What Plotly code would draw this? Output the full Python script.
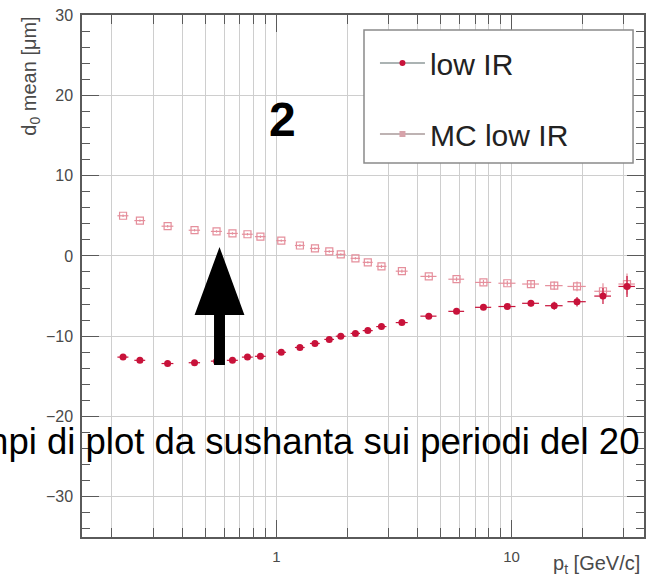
import plotly.graph_objects as go

# ---- data: mean transverse impact parameter d0 vs pT -------------------------
pt = [0.223, 0.263, 0.345, 0.449, 0.557, 0.651, 0.754, 0.856, 1.05, 1.26, 1.46,
      1.68, 1.88, 2.17, 2.45, 2.80, 3.42, 4.45, 5.84, 7.6, 9.6, 12.1, 15.2,
      19.0, 24.5, 31.0]
pt_err = [0.012, 0.014, 0.02, 0.025, 0.03, 0.035, 0.04, 0.045, 0.05, 0.06, 0.07,
          0.08, 0.09, 0.1, 0.12, 0.14, 0.2, 0.35, 0.45, 0.6, 0.8, 1.0, 1.3,
          1.7, 2.0, 2.5]

d0_low_ir = [-12.6, -13.0, -13.4, -13.3, -13.1, -13.0, -12.6, -12.5, -12.0, -11.4,
             -10.9, -10.4, -10.0, -9.65, -9.3, -8.8, -8.3, -7.5, -6.9, -6.4,
             -6.3, -5.9, -6.2, -5.7, -5.0, -3.8]
d0_low_ir_err = [0.15, 0.15, 0.15, 0.15, 0.15, 0.15, 0.15, 0.15, 0.15, 0.15, 0.15,
                 0.15, 0.15, 0.15, 0.15, 0.2, 0.2, 0.2, 0.25, 0.3, 0.3, 0.4, 0.5,
                 0.6, 1.0, 1.3]

d0_mc_low_ir = [5.0, 4.4, 3.7, 3.2, 3.05, 2.8, 2.7, 2.4, 1.9, 1.3, 0.93, 0.56, 0.19,
                -0.3, -0.8, -1.3, -1.9, -2.55, -2.9, -3.3, -3.4, -3.5, -3.7, -3.8,
                -4.4, -3.5]
d0_mc_low_ir_err = [0.15, 0.15, 0.15, 0.15, 0.15, 0.15, 0.15, 0.15, 0.15, 0.15, 0.15,
                    0.15, 0.15, 0.15, 0.15, 0.2, 0.2, 0.2, 0.25, 0.3, 0.3, 0.4, 0.5,
                    0.6, 1.0, 1.3]

series_names = ["low IR", "MC low IR"]
x_tick_vals = [1, 10]
x_tick_text = ["1", "10"]
x_minor_vals = [0.2, 0.3, 0.4, 0.5, 0.6, 0.7, 0.8, 0.9,
                2, 3, 4, 5, 6, 7, 8, 9, 20, 30, 40]

# ---- page geometry (pixels) ---------------------------------------------------
W, H = 648, 581
L, R, T, B = 82, 2, 15, 44
PW, PH = W - L - R, H - T - B


def px(x):
    return (x - L) / PW


def py(y):
    return (H - B - y) / PH


RED = "#c8123a"
PINK = "#e58f9c"
AXIS = "#5a5a5a"
GRID = "#cecece"
TXT = "#4a4a4a"
FONT = "Liberation Sans, Arial, sans-serif"

fig = go.Figure()

fig.add_trace(go.Scatter(
    x=pt, y=d0_mc_low_ir, mode="markers", showlegend=False,
    marker=dict(symbol="square-open", size=7, color=PINK, line=dict(width=1.2)),
    error_x=dict(type="data", array=pt_err, color=PINK, thickness=1.2, width=0),
    error_y=dict(type="data", array=d0_mc_low_ir_err, color=PINK, thickness=1.2, width=0),
))
fig.add_trace(go.Scatter(
    x=pt, y=d0_low_ir, mode="markers", showlegend=False,
    marker=dict(symbol="circle", size=7, color=RED),
    error_x=dict(type="data", array=pt_err, color=RED, thickness=1.2, width=0),
    error_y=dict(type="data", array=d0_low_ir_err, color=RED, thickness=1.2, width=0),
))

# legend entries drawn as line + marker
fig.add_trace(go.Scatter(
    x=[None], y=[None], mode="lines+markers", name=series_names[0], legendgroup="a",
    line=dict(color="#8f9a9a", width=1.5),
    marker=dict(symbol="circle", size=6, color=RED),
))
fig.add_trace(go.Scatter(
    x=[None], y=[None], mode="lines+markers", name=series_names[1], legendgroup="b",
    line=dict(color="#a89a9a", width=1.5),
    marker=dict(symbol="square", size=6, color="#d7a3aa"),
))

fig.update_xaxes(
    type="log", range=[-0.8263, 1.5636],
    tickvals=x_tick_vals, ticktext=x_tick_text,
    ticks="inside", ticklen=17, tickwidth=1.2, tickcolor=AXIS,
    showline=True, linecolor=AXIS, linewidth=1.5, mirror="allticks",
    showgrid=True, gridcolor=GRID, gridwidth=1.2,
    minor=dict(tickvals=x_minor_vals, ticks="inside", ticklen=9, tickcolor=AXIS,
               showgrid=True, gridcolor=GRID, gridwidth=1.2),
    tickfont=dict(family=FONT, size=15, color=TXT),
    ticklabelstandoff=5, zeroline=False,
)
fig.update_yaxes(
    range=[-35, 30], dtick=10, tick0=0,
    ticks="inside", ticklen=17, tickwidth=1.2, tickcolor=AXIS,
    showline=True, linecolor=AXIS, linewidth=1.5, mirror="allticks",
    showgrid=True, gridcolor=GRID, gridwidth=1.2,
    minor=dict(dtick=2, ticks="inside", ticklen=8, tickcolor=AXIS, showgrid=False),
    tickfont=dict(family=FONT, size=16, color=TXT),
    ticklabelstandoff=4, zeroline=False,
)

shapes = [
    # legend frame
    dict(type="rect", xref="paper", yref="paper",
         x0=px(365), x1=px(635), y0=py(163), y1=py(30),
         fillcolor="white", line=dict(color="#8a8a8a", width=1.5), layer="above"),
    # black arrow pointing up
    dict(type="path", xref="paper", yref="paper",
         path=("M {a},{b} L {c},{d} L {e},{d} L {e},{f} L {g},{f} L {g},{d} "
               "L {h},{d} Z").format(
             a=px(220), b=py(247), c=px(195), d=py(315), e=px(214.5), f=py(365),
             g=px(225.5), h=px(245)),
         fillcolor="black", line=dict(color="black", width=0), layer="above"),
]

annotations = [
    dict(text="d<sub>0</sub> mean [μm]", xref="paper", yref="paper",
         x=px(30), y=1.0, xanchor="center", yanchor="top", textangle=-90,
         showarrow=False, font=dict(family=FONT, size=20, color=TXT)),
    dict(text="p<sub>t</sub> [GeV/c]", xref="paper", yref="paper",
         x=px(553), y=py(564), xanchor="left", yanchor="middle",
         showarrow=False, font=dict(family=FONT, size=20, color=TXT)),
    dict(text="<b>2</b>", xref="paper", yref="paper",
         x=px(283), y=py(119), xanchor="center", yanchor="middle",
         showarrow=False, font=dict(family=FONT, size=48, color="black")),
    dict(text="mpi di plot da sushanta sui periodi del 20", xref="paper", yref="paper",
         x=px(-24), y=py(441), xanchor="left", yanchor="middle",
         showarrow=False, font=dict(family=FONT, size=36.5, color="black")),
]

fig.update_layout(
    width=W, height=H,
    margin=dict(l=L, r=R, t=T, b=B, pad=0),
    paper_bgcolor="white", plot_bgcolor="white",
    shapes=shapes, annotations=annotations,
    legend=dict(x=px(376), y=py(37), xanchor="left", yanchor="top",
                bgcolor="rgba(0,0,0,0)", borderwidth=0,
                font=dict(family=FONT, size=30, color="#222222"),
                itemwidth=45, tracegroupgap=29, traceorder="grouped"),
)

fig.write_html("out.html")
